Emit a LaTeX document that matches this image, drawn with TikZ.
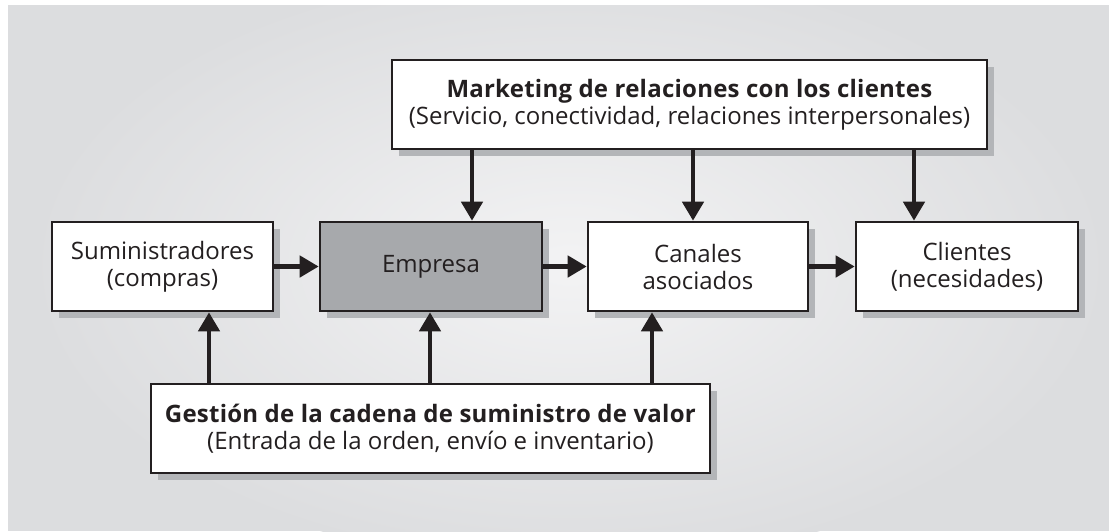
\documentclass[tikz,border=0pt]{standalone}
\usepackage{fontspec}
\setmainfont{Open Sans}[BoldFeatures={LetterSpace=1}]
\usetikzlibrary{arrows.meta,shadows}
\definecolor{ink}{HTML}{231F20}
\definecolor{bgedge}{HTML}{DCDDDF}
\definecolor{bgmid}{HTML}{F3F3F4}
\definecolor{empfill}{HTML}{A7A9AC}
\definecolor{shadowgray}{HTML}{B3B5B8}
\tikzset{
  box/.style={draw=ink, line width=2.6pt, fill=white, text=ink, align=center,
    minimum height=89pt, inner sep=2pt,
    font=\fontsize{24}{27}\selectfont,
    drop shadow={shadow xshift=7pt, shadow yshift=-7pt, fill=shadowgray, opacity=1}},
  arr/.style={draw=ink, line width=4.5pt, -{Triangle[length=19pt,width=21pt]}}
}
\begin{document}
\begin{tikzpicture}[x=1pt,y=-1pt]
\useasboundingbox (0,0) rectangle (1109,531);
\fill[white] (0,0) rectangle (1109,531);
\begin{scope}
\clip (8,5) rectangle (1109,531);
\fill[bgedge] (8,5) rectangle (1109,531);
\shade[inner color=bgmid, outer color=bgedge] (570,265) ellipse (540pt and 300pt);
\end{scope}
\node[box, minimum width=221pt] (sum) at (162.5,266.5) {Suministradores\\(compras)};
\node[box, minimum width=222pt, fill=empfill] (emp) at (431,266.5) {Empresa};
\node[box, minimum width=220pt] (can) at (698,266.5) {Canales\\asociados};
\node[box, minimum width=222pt] (cli) at (967,266.5) {Clientes\\(necesidades)};
\node[box, minimum width=595pt] (mk) at (689.5,104.5) {\textbf{Marketing de relaciones con los clientes}\\(Servicio, conectividad, relaciones interpersonales)};
\node[box, minimum width=559pt] (ge) at (430.5,428.5) {\textbf{Gestión de la cadena de suministro de valor}\\(Entrada de la orden, envío e inventario)};
\draw[arr] (sum.east) -- (emp.west);
\draw[arr] (emp.east) -- (can.west);
\draw[arr] (can.east) -- (cli.west);
\draw[arr] (mk.south -| 472,0) -- (emp.north -| 472,0);
\draw[arr] (mk.south -| 693,0) -- (can.north -| 693,0);
\draw[arr] (mk.south -| 914,0) -- (cli.north -| 914,0);
\draw[arr] (ge.north -| 209,0) -- (sum.south -| 209,0);
\draw[arr] (ge.north -| 430,0) -- (emp.south -| 430,0);
\draw[arr] (ge.north -| 652,0) -- (can.south -| 652,0);
\end{tikzpicture}
\end{document}
